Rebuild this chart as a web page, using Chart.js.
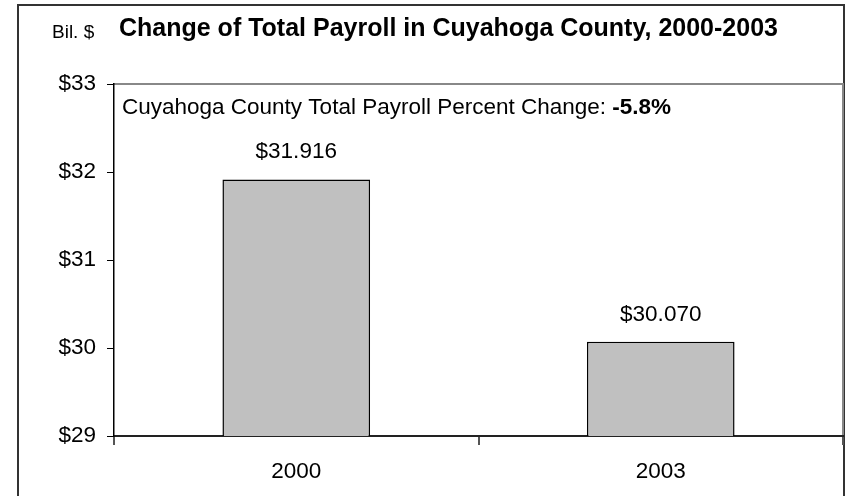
<!DOCTYPE html>
<html>
<head>
<meta charset="utf-8">
<script src="https://cdn.jsdelivr.net/npm/chart.js@4"></script>
<style>
  html, body { margin: 0; padding: 0; background: #fff; }
  #wrap { width: 850px; height: 496px; }
</style>
</head>
<body>
<div id="wrap"><canvas id="payrollChart" width="850" height="496"></canvas></div>
<script>
const years = ["2000", "2003"];
const payroll = [31.916, 30.070];
const yTicks = [29, 30, 31, 32, 33];
const titleText = "Change of Total Payroll in Cuyahoga County, 2000-2003";
const unitText = "Bil. $";
const noteText = "Cuyahoga County Total Payroll Percent Change: ";
const noteValue = "-5.8%";

const FONT = "'Liberation Sans', Arial, sans-serif";

const extras = {
  id: "extras",
  beforeDraw(chart) {
    const ctx = chart.ctx;
    const a = chart.chartArea;
    ctx.save();
    ctx.fillStyle = "#fff";
    ctx.fillRect(0, 0, chart.width, chart.height);
    // outer frame
    ctx.strokeStyle = "#333";
    ctx.lineWidth = 2;
    ctx.beginPath();
    ctx.moveTo(18, 500);
    ctx.lineTo(18, 5);
    ctx.lineTo(844, 5);
    ctx.lineTo(844, 500);
    ctx.stroke();
    // plot area border (top + right)
    ctx.strokeStyle = "#888";
    ctx.lineWidth = 2;
    ctx.beginPath();
    ctx.moveTo(a.left, a.top);
    ctx.lineTo(a.right, a.top);
    ctx.lineTo(a.right, a.bottom);
    ctx.stroke();
    ctx.restore();
  },
  afterDraw(chart) {
    const ctx = chart.ctx;
    const a = chart.chartArea;
    ctx.save();
    ctx.fillStyle = "#000";
    ctx.textBaseline = "alphabetic";
    // title
    ctx.font = "bold 25px " + FONT;
    ctx.textAlign = "left";
    ctx.fillText(titleText, 119, 36);
    ctx.font = "19px " + FONT;
    ctx.fillText(unitText, 52, 38);
    // note
    ctx.font = "22.5px " + FONT;
    ctx.fillText(noteText, a.left + 8, 114);
    const w = ctx.measureText(noteText).width;
    ctx.font = "bold 22.5px " + FONT;
    ctx.fillText(noteValue, a.left + 8 + w, 114);
    // value labels
    ctx.font = "22.5px " + FONT;
    ctx.textAlign = "center";
    const meta = chart.getDatasetMeta(0);
    meta.data.forEach((bar, i) => {
      ctx.fillText("$" + payroll[i].toFixed(3), bar.x, bar.y - 21);
    });
    ctx.restore();
  }
};

new Chart(document.getElementById("payrollChart"), {
  type: "bar",
  data: {
    labels: years,
    datasets: [{
      data: payroll,
      backgroundColor: "#c0c0c0",
      borderColor: "#000",
      borderWidth: 1.5,
      borderSkipped: false,
      barPercentage: 0.405,
      categoryPercentage: 1
    }]
  },
  options: {
    responsive: false,
    animation: false,
    events: [],
    layout: { padding: { top: 84, right: 7, left: 0, bottom: 0 } },
    plugins: { legend: { display: false }, tooltip: { enabled: false }, title: { display: false } },
    scales: {
      x: {
        afterFit: s => { s.height = 60; },
        grid: { offset: true, drawOnChartArea: false, color: "#555", tickLength: 9, lineWidth: 2 },
        border: { color: "#222", width: 2 },
        ticks: { color: "#000", font: { family: FONT, size: 22.5 }, padding: 13 }
      },
      y: {
        min: yTicks[0],
        max: yTicks[yTicks.length - 1],
        afterFit: s => { s.width = 114; },
        afterBuildTicks: s => { s.ticks = yTicks.map(v => ({ value: v })); },
        grid: { drawOnChartArea: false, color: "#000", tickLength: 7 },
        border: { color: "#000", width: 1.5 },
        ticks: { color: "#000", font: { family: FONT, size: 22.5 }, padding: 11, callback: v => "$" + v }
      }
    }
  },
  plugins: [extras]
});
</script>
</body>
</html>
